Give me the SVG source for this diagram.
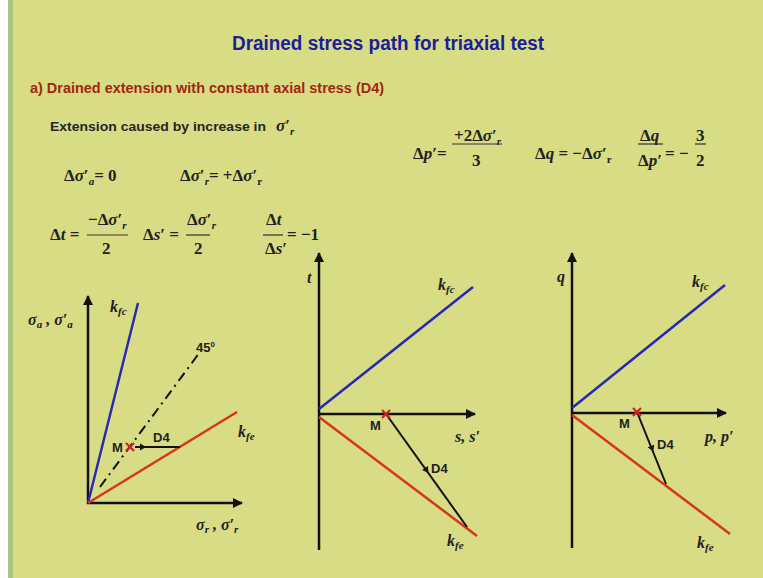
<svg xmlns="http://www.w3.org/2000/svg" width="763" height="578" viewBox="0 0 763 578">
<defs>
<style>
.ttl{font-family:"Liberation Sans",Arial,sans-serif;font-weight:bold;font-size:20px;fill:#1c1c9c}
.sub{font-family:"Liberation Sans",Arial,sans-serif;font-weight:bold;font-size:14px;fill:#a3260f}
.txt{font-family:"Liberation Sans",Arial,sans-serif;font-weight:bold;font-size:13.5px;fill:#262626}
.m{font-family:"Liberation Serif","Times New Roman",serif;font-weight:bold;font-size:17px;fill:#222}
.mi{font-family:"Liberation Serif","Times New Roman",serif;font-weight:bold;font-style:italic;font-size:17px;fill:#222}
.lab{font-family:"Liberation Serif","Times New Roman",serif;font-weight:bold;font-style:italic;font-size:16px;fill:#222}
.sm{font-family:"Liberation Sans",Arial,sans-serif;font-weight:bold;font-size:13px;fill:#222}
.ax{stroke:#111;stroke-width:2.5;fill:none}
.blue{stroke:#2828b4;stroke-width:2.5;fill:none}
.red{stroke:#d43818;stroke-width:2.5;fill:none}
.path{stroke:#111;stroke-width:2;fill:none}
.cross{stroke:#d42020;stroke-width:2.2;fill:none}
.frac{stroke:#333;stroke-width:1.2}
</style>
<marker id="ah" viewBox="0 0 10 10" refX="9" refY="5" markerWidth="4" markerHeight="4" orient="auto" markerUnits="strokeWidth">
<path d="M0,0 L10,5 L0,10 z" fill="#111"/>
</marker>
</defs>

<rect x="0" y="0" width="763" height="578" fill="#d8dc84"/>
<rect x="0" y="0" width="8" height="578" fill="#ffffff"/>
<rect x="8" y="0" width="5" height="578" fill="#a8c47e"/>

<g id="title">
<text class="ttl" x="232" y="50" textLength="312" lengthAdjust="spacingAndGlyphs">Drained stress path for triaxial test</text>
</g>
<g id="subtitle">
<text class="sub" x="30" y="93" textLength="354" lengthAdjust="spacingAndGlyphs">a) Drained extension with constant axial stress (D4)</text>
</g>

<g id="text-extension">
<text class="txt" x="50" y="131" textLength="216" lengthAdjust="spacingAndGlyphs">Extension caused by increase in</text>
<text class="mi" x="276" y="131">σ<tspan font-style="normal">′</tspan><tspan font-size="11" dy="4">r</tspan></text>
</g>

<g id="eq-row1">
<text class="m" x="64" y="181">Δ<tspan font-style="italic">σ</tspan>′<tspan font-size="11" dy="4" font-style="italic">a</tspan><tspan dy="-4">= 0</tspan></text>
<text class="m" x="180" y="181">Δ<tspan font-style="italic">σ</tspan>′<tspan font-size="11" dy="4" font-style="italic">r</tspan><tspan dy="-4">= +Δ</tspan><tspan font-style="italic">σ</tspan>′<tspan font-size="11" dy="4">r</tspan></text>
</g>

<g id="eq-row2">
<text class="m" x="50" y="240">Δ<tspan font-style="italic">t</tspan> =</text>
<text class="m" x="88" y="225">−Δ<tspan font-style="italic">σ</tspan>′<tspan font-size="11" dy="4" font-style="italic">r</tspan></text>
<line class="frac" x1="87" y1="235" x2="128" y2="235"/>
<text class="m" x="102" y="254">2</text>

<text class="m" x="143" y="240">Δ<tspan font-style="italic">s</tspan>′ =</text>
<text class="m" x="187" y="225">Δ<tspan font-style="italic">σ</tspan>′<tspan font-size="11" dy="4" font-style="italic">r</tspan></text>
<line class="frac" x1="186" y1="235" x2="210" y2="235"/>
<text class="m" x="194" y="254">2</text>

<text class="m" x="266" y="225">Δ<tspan font-style="italic">t</tspan></text>
<line class="frac" x1="263" y1="235" x2="283" y2="235" stroke="#777"/>
<text class="m" x="265" y="254">Δ<tspan font-style="italic">s</tspan>′</text>
<text class="m" x="287" y="240">= −1</text>
</g>

<g id="eq-right">
<text class="m" x="413" y="159">Δ<tspan font-style="italic">p</tspan>′=</text>
<text class="m" x="454" y="141">+2Δ<tspan font-style="italic">σ</tspan>′<tspan font-size="11" dy="4" font-style="italic">r</tspan></text>
<line class="frac" x1="452" y1="144" x2="502" y2="144"/>
<text class="m" x="472" y="166">3</text>

<text class="m" x="535" y="159">Δ<tspan font-style="italic">q</tspan> = −Δ<tspan font-style="italic">σ</tspan>′<tspan font-size="11" dy="4">r</tspan></text>

<text class="m" x="640" y="141">Δ<tspan font-style="italic">q</tspan></text>
<line class="frac" x1="638" y1="144" x2="663" y2="144"/>
<text class="m" x="638" y="166">Δ<tspan font-style="italic">p</tspan>′</text>
<text class="m" x="665" y="159">= −</text>
<text class="m" x="696" y="141">3</text>
<line class="frac" x1="695" y1="144" x2="706" y2="144"/>
<text class="m" x="696" y="166">2</text>
</g>

<g id="plot-sigma">
<g id="connectors-sigma">
<line class="ax" x1="88" y1="504" x2="88" y2="296" marker-end="url(#ah)"/>
<line class="ax" x1="87" y1="503" x2="242" y2="503" marker-end="url(#ah)"/>
<line class="blue" x1="88" y1="503" x2="138" y2="303"/>
<line class="red" x1="88" y1="503" x2="237" y2="412"/>
<line x1="100" y1="487" x2="200" y2="352" stroke="#111" stroke-width="2" stroke-dasharray="10 5 2 5"/>
<line class="path" x1="180" y1="447" x2="135" y2="447"/>
<path d="M140,443.5 L146,447 L140,450.5 z" fill="#111"/>
</g>
<g id="node-M1">
<path class="cross" d="M126,443 L134,451 M134,443 L126,451"/>
<text class="sm" x="112" y="452">M</text>
</g>
<text class="sm" x="153" y="442">D4</text>
<text class="sm" x="196" y="352" font-size="12">45<tspan font-size="8" dy="-5">0</tspan></text>
<text class="lab" x="110" y="312">k<tspan font-size="11" dy="3">fc</tspan></text>
<text class="lab" x="238" y="437">k<tspan font-size="11" dy="3">fe</tspan></text>
<text class="lab" x="28" y="325">σ<tspan font-size="11" dy="3">a</tspan><tspan dy="-3"> , σ′</tspan><tspan font-size="11" dy="3">a</tspan></text>
<text class="lab" x="196" y="530">σ<tspan font-size="11" dy="3">r</tspan><tspan dy="-3"> , σ′</tspan><tspan font-size="11" dy="3">r</tspan></text>
</g>

<g id="plot-ts">
<g id="connectors-ts">
<line class="ax" x1="319" y1="550" x2="319" y2="253" marker-end="url(#ah)"/>
<line class="ax" x1="319" y1="414" x2="475" y2="414" marker-end="url(#ah)"/>
<line class="blue" x1="319" y1="409" x2="473" y2="287"/>
<line class="red" x1="319" y1="417" x2="477" y2="536"/>
<line class="path" x1="386" y1="414" x2="467" y2="527"/>
<path d="M0,-3.5 L6,0 L0,3.5 z" fill="#111" transform="translate(425,468) rotate(54.4)"/>
</g>
<g id="node-M2">
<path class="cross" d="M382,410 L390,418 M390,410 L382,418"/>
<text class="sm" x="370" y="430">M</text>
</g>
<text class="sm" x="431" y="473">D4</text>
<text class="lab" x="307" y="283">t</text>
<text class="lab" x="455" y="442">s, s′</text>
<text class="lab" x="438" y="290">k<tspan font-size="11" dy="3">fc</tspan></text>
<text class="lab" x="447" y="546">k<tspan font-size="11" dy="3">fe</tspan></text>
</g>

<g id="plot-qp">
<g id="connectors-qp">
<line class="ax" x1="572" y1="548" x2="572" y2="253" marker-end="url(#ah)"/>
<line class="ax" x1="572" y1="413" x2="726" y2="413" marker-end="url(#ah)"/>
<line class="blue" x1="572" y1="408" x2="725" y2="285"/>
<line class="red" x1="572" y1="415" x2="730" y2="534"/>
<line class="path" x1="637" y1="412" x2="666" y2="484"/>
<path d="M0,-3.5 L6,0 L0,3.5 z" fill="#111" transform="translate(651,446) rotate(68)"/>
</g>
<g id="node-M3">
<path class="cross" d="M633,408 L641,416 M641,408 L633,416"/>
<text class="sm" x="619" y="428">M</text>
</g>
<text class="sm" x="657" y="449">D4</text>
<text class="lab" x="557" y="282">q</text>
<text class="lab" x="705" y="442">p, p′</text>
<text class="lab" x="692" y="287">k<tspan font-size="11" dy="3">fc</tspan></text>
<text class="lab" x="697" y="548">k<tspan font-size="11" dy="3">fe</tspan></text>
</g>
</svg>
